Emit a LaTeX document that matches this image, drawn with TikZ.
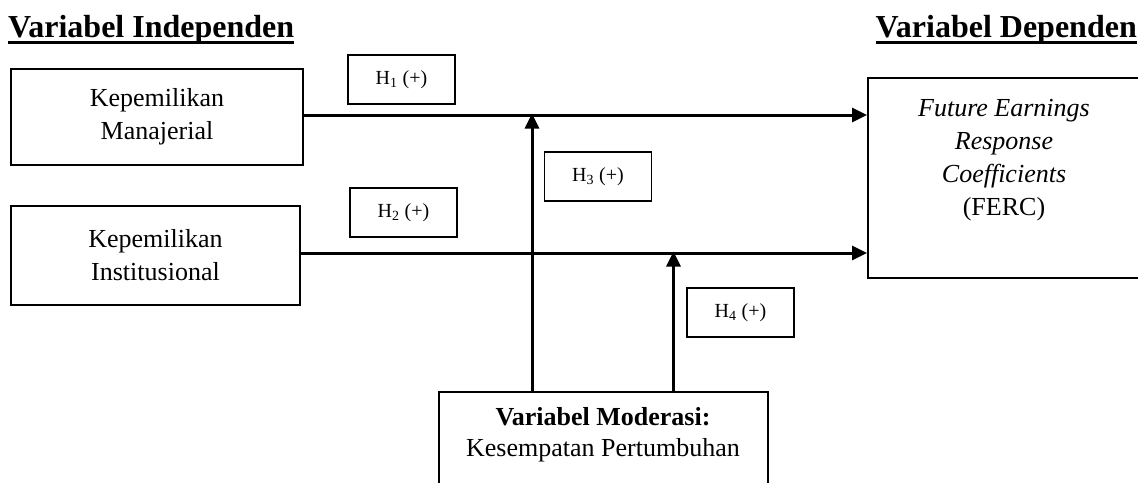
\documentclass[tikz,border=0pt]{standalone}
\usepackage{fontspec}
\setmainfont{Liberation Serif}
\usetikzlibrary{arrows.meta}

\tikzset{
  varbox/.style={draw, line width=1.9pt, align=center, inner sep=0pt,
    font=\fontsize{26}{33}\selectfont},
  frame/.style={draw, line width=1.9pt},
  hypbox/.style={draw, line width=1.9pt, minimum width=107pt, minimum height=49pt,
    inner sep=0pt, font=\fontsize{20}{24}\selectfont},
  bodytext/.style={align=center, inner sep=0pt, font=\fontsize{26}{33}\selectfont},
  heading/.style={inner sep=0pt, font=\fontsize{32}{36}\selectfont\bfseries},
  link/.style={line width=3pt, -{Triangle[length=15pt,width=14pt]}},
  rulebar/.style={line width=3pt}
}

\begin{document}
\begin{tikzpicture}[x=1pt,y=-1pt]
  \clip (0,0) rectangle (1138,482);
  \fill[white] (0,0) rectangle (1138,482);

  % headings
  \node[heading, anchor=base west] (hind) at (8,37) {Variabel Independen};
  \node[heading, anchor=base east] (hdep) at (1137,37) {Variabel Dependen};
  \draw[rulebar] ([yshift=-5pt]hind.base west) -- ([yshift=-5pt]hind.base east);
  \draw[rulebar] ([yshift=-5pt]hdep.base west) -- ([yshift=-5pt]hdep.base east);

  % variable boxes
  \node[varbox, minimum width=292pt, minimum height=96pt] (km) at (157,117)
    {Kepemilikan\\Manajerial};
  \node[varbox, minimum width=289pt, minimum height=99pt] (ki) at (155.5,255.5)
    {Kepemilikan\\Institusional};
  \node[frame, minimum width=272pt, minimum height=200pt] (ferc) at (1004,178) {};
  \node[bodytext] (ferctext) at (1004,160)
    {\textit{Future Earnings}\\\textit{Response}\\\textit{Coefficients}\\(FERC)};
  \node[frame, minimum width=329pt, minimum height=120pt] (mod) at (603.5,452) {};
  \node[bodytext, font=\fontsize{26}{31}\selectfont] (modtext) at (603,435)
    {\textbf{Variabel Moderasi:}\\Kesempatan Pertumbuhan};

  % hypothesis labels
  \node[hypbox] (h1) at (401.5,79.5) {H\textsubscript{1} (+)};
  \node[hypbox] (h2) at (403.5,212.5) {H\textsubscript{2} (+)};
  \node[hypbox] (h3) at (598,176.5) {H\textsubscript{3} (+)};
  \node[hypbox] (h4) at (740.5,312.5) {H\textsubscript{4} (+)};

  % junctions of the moderating paths
  \coordinate (j1) at (532,115);
  \coordinate (j2) at (673.5,253);

  % direct paths
  \draw[link] (km.east |- j1) -- (ferc.west |- j1);
  \draw[link] (ki.east |- j2) -- (ferc.west |- j2);

  % moderating paths
  \draw[link] (j1 |- mod.north) -- ([yshift=1.5pt]j1);
  \draw[link] (j2 |- mod.north) -- ([yshift=1.5pt]j2);
\end{tikzpicture}
\end{document}
